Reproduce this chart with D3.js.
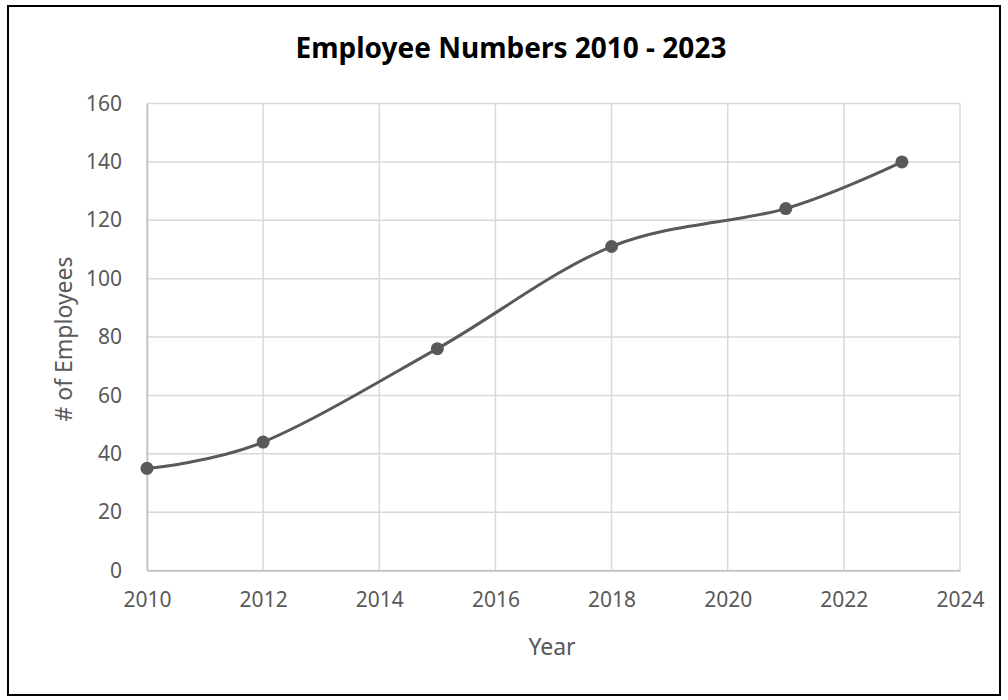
<!DOCTYPE html>
<html>
<head>
<meta charset="utf-8">
<script src="https://cdn.jsdelivr.net/npm/d3@7"></script>
<style>
  body { margin: 0; background: #fff; }
  text { font-family: "Noto Sans", "Open Sans", sans-serif; }
</style>
</head>
<body>
<svg id="chart" width="1008" height="700"></svg>
<script>
// data
var years = [2010, 2012, 2015, 2018, 2021, 2023];
var employees = [35, 44, 76, 111, 124, 140];
var xTicks = [2010, 2012, 2014, 2016, 2018, 2020, 2022, 2024];
var yTicks = [0, 20, 40, 60, 80, 100, 120, 140, 160];

var svg = d3.select("#chart");

// outer frame
svg.append("rect")
  .attr("x", 8).attr("y", 6)
  .attr("width", 992).attr("height", 689)
  .attr("fill", "#fff")
  .attr("stroke", "#000")
  .attr("stroke-width", 2);

var plotLeft = 147, plotRight = 960, plotTop = 103.5, plotBottom = 570.5;

var x = d3.scaleLinear().domain([2010, 2024]).range([plotLeft, plotRight]);
var y = d3.scaleLinear().domain([0, 160]).range([plotBottom, plotTop]);

// gridlines
svg.append("g")
  .selectAll("line")
  .data(xTicks)
  .enter().append("line")
    .attr("x1", function(d){ return x(d); })
    .attr("x2", function(d){ return x(d); })
    .attr("y1", plotTop).attr("y2", plotBottom)
    .attr("stroke", "#d9d9d9")
    .attr("stroke-width", 1.5);

svg.append("g")
  .selectAll("line")
  .data(yTicks)
  .enter().append("line")
    .attr("x1", plotLeft).attr("x2", plotRight)
    .attr("y1", function(d){ return y(d); })
    .attr("y2", function(d){ return y(d); })
    .attr("stroke", "#d9d9d9")
    .attr("stroke-width", 1.5);

// axes
var xAxis = svg.append("g")
  .attr("transform", "translate(0," + plotBottom + ")")
  .call(d3.axisBottom(x).tickValues(xTicks).tickFormat(d3.format("d")).tickSize(0).tickPadding(22));
var yAxis = svg.append("g")
  .attr("transform", "translate(" + plotLeft + ",0)")
  .call(d3.axisLeft(y).tickValues(yTicks).tickSize(0).tickPadding(25));

[xAxis, yAxis].forEach(function(a){
  a.select(".domain").attr("stroke", "#bfbfbf").attr("stroke-width", 1.5);
  a.selectAll("text")
    .attr("fill", "#595959")
    .style("font-size", "21px")
    .style("font-family", "'Noto Sans', sans-serif");
});

// line
var pts = years.map(function(d, i){ return [d, employees[i]]; });

svg.append("path")
  .datum(pts)
  .attr("fill", "none")
  .attr("stroke", "#595959")
  .attr("stroke-width", 3)
  .attr("d", d3.line()
    .x(function(d){ return x(d[0]); })
    .y(function(d){ return y(d[1]); })
    .curve(d3.curveCatmullRom.alpha(0)));

svg.append("g")
  .selectAll("circle")
  .data(pts)
  .enter().append("circle")
    .attr("cx", function(d){ return x(d[0]); })
    .attr("cy", function(d){ return y(d[1]); })
    .attr("r", 6.5)
    .attr("fill", "#595959");

// titles
svg.append("text")
  .attr("x", 511).attr("y", 58)
  .attr("text-anchor", "middle")
  .attr("fill", "#000")
  .style("font-size", "28px")
  .style("font-weight", "bold")
  .text("Employee Numbers 2010 - 2023");

svg.append("text")
  .attr("x", 552).attr("y", 655)
  .attr("text-anchor", "middle")
  .attr("fill", "#595959")
  .style("font-size", "23px")
  .text("Year");

svg.append("text")
  .attr("transform", "translate(72,339) rotate(-90)")
  .attr("text-anchor", "middle")
  .attr("fill", "#595959")
  .style("font-size", "23px")
  .text("# of Employees");
</script>
</body>
</html>
